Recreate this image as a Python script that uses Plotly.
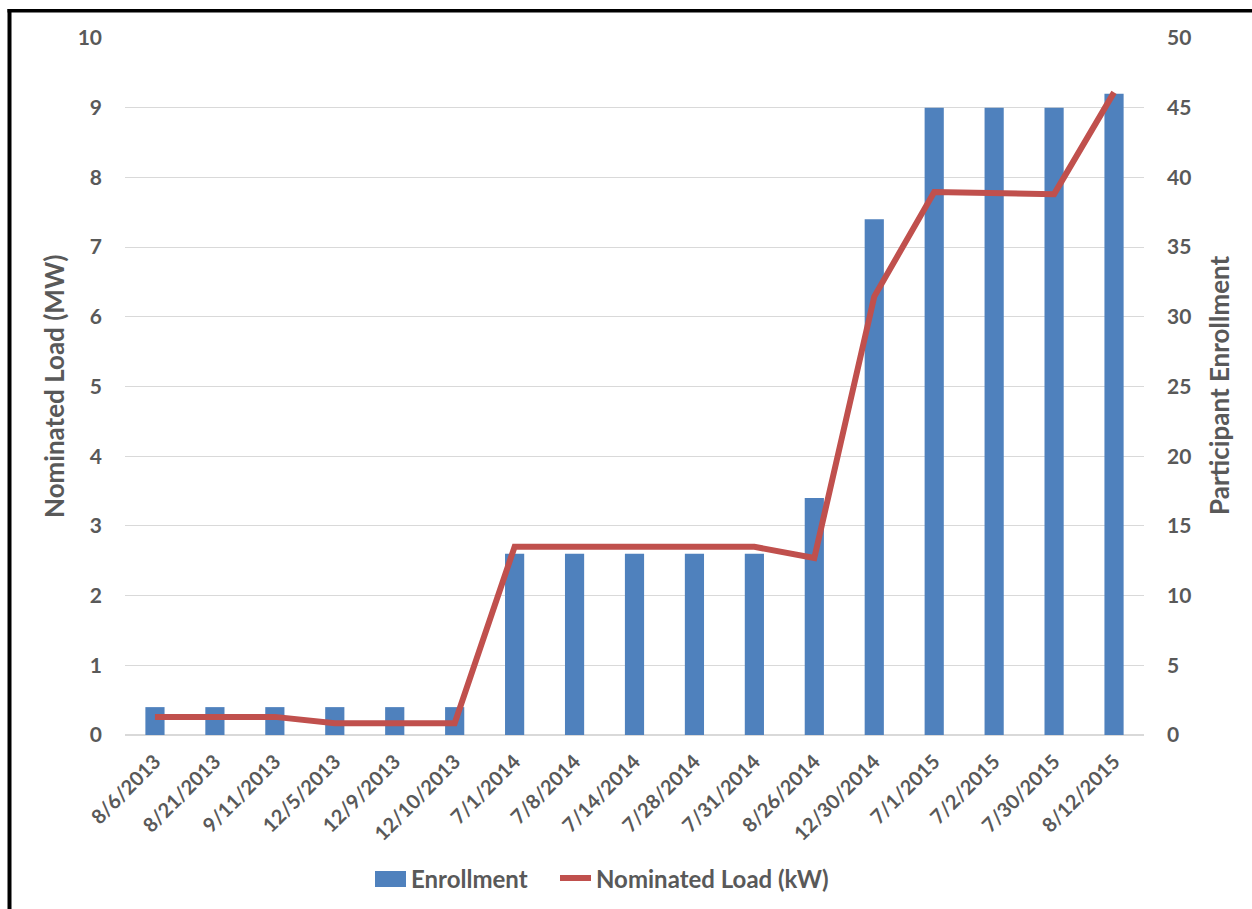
import plotly.graph_objects as go

# Enrollment dates (category axis)
dates = ["8/6/2013", "8/21/2013", "9/11/2013", "12/5/2013", "12/9/2013",
         "12/10/2013", "7/1/2014", "7/8/2014", "7/14/2014", "7/28/2014",
         "7/31/2014", "8/26/2014", "12/30/2014", "7/1/2015", "7/2/2015",
         "7/30/2015", "8/12/2015"]

# Participant enrollment (count, right axis)
enrollment = [2, 2, 2, 2, 2, 2, 13, 13, 13, 13, 13, 17, 37, 45, 45, 45, 46]

# Nominated load (MW, left axis)
nominated_load = [0.26, 0.26, 0.26, 0.17, 0.17, 0.17, 2.70, 2.70, 2.70, 2.70,
                  2.70, 2.54, 6.29, 7.79, 7.78, 7.76, 9.22]

left_ticks = list(range(0, 11))
right_ticks = list(range(0, 51, 5))

BAR_COLOR = "#4F81BD"
LINE_COLOR = "#C0504D"
TEXT = "#595959"
FONT = "Lato"
W, H = 1252, 909
L, R, T, B = 125, 108, 38, 174
PW, PH = W - L - R, H - T - B


def px_x(p):
    return (p - L) / PW


def px_y(p):
    return (H - B - p) / PH


def bold(size):
    return dict(size=size, family=FONT, color=TEXT, weight="bold")


fig = go.Figure()

fig.add_trace(go.Bar(
    x=dates, y=enrollment, name="Enrollment",
    marker=dict(color=BAR_COLOR, line=dict(width=0)),
    yaxis="y", showlegend=False,
))

fig.add_trace(go.Scatter(
    x=dates, y=nominated_load, name="Nominated Load (kW)",
    mode="lines", line=dict(color=LINE_COLOR, width=6),
    yaxis="y2", showlegend=False,
))

# Legend row drawn beneath the chart
LEG_Y = 878
legend_shapes = [
    dict(type="rect", xref="paper", yref="paper",
         x0=px_x(375), x1=px_x(406), y0=px_y(887), y1=px_y(871),
         fillcolor=BAR_COLOR, line=dict(width=0)),
    dict(type="line", xref="paper", yref="paper",
         x0=px_x(560), x1=px_x(591), y0=px_y(LEG_Y), y1=px_y(LEG_Y),
         line=dict(color=LINE_COLOR, width=6)),
]
legend_labels = [
    dict(text="Enrollment", xref="paper", yref="paper",
         x=px_x(409), y=px_y(LEG_Y), xanchor="left", yanchor="middle",
         showarrow=False, font=bold(24)),
    dict(text="Nominated Load (kW)", xref="paper", yref="paper",
         x=px_x(594), y=px_y(LEG_Y), xanchor="left", yanchor="middle",
         showarrow=False, font=bold(24)),
]

fig.update_layout(
    width=W, height=H,
    margin=dict(l=L, r=R, t=T, b=B),
    paper_bgcolor="white", plot_bgcolor="white",
    font=dict(family=FONT, color=TEXT),
    bargap=0.68,
    showlegend=False,
    xaxis=dict(
        type="category", tickangle=-45, showgrid=False, zeroline=False,
        showline=False, ticks="",
        tickfont=bold(20),
        ticklabelstandoff=10,
    ),
    yaxis=dict(
        side="right", range=[0, 50], tickvals=right_ticks,
        showgrid=True, gridcolor="#D9D9D9", gridwidth=1,
        zeroline=True, zerolinecolor="#D9D9D9", zerolinewidth=1.5,
        showline=False, ticks="",
        tickfont=bold(21),
        ticklabelstandoff=22,
    ),
    yaxis2=dict(
        side="left", overlaying="y", range=[0, 10], tickvals=left_ticks,
        showgrid=False, zeroline=False, showline=False, ticks="",
        tickfont=bold(21),
        ticklabelstandoff=22,
    ),
    annotations=[
        dict(text="Nominated Load (MW)", textangle=-90,
             xref="paper", yref="paper", x=px_x(54), y=px_y(387),
             xanchor="center", yanchor="middle", showarrow=False,
             font=bold(26)),
        dict(text="Participant Enrollment", textangle=-90,
             xref="paper", yref="paper", x=px_x(1219), y=px_y(385),
             xanchor="center", yanchor="middle", showarrow=False,
             font=bold(26)),
    ] + legend_labels,
    shapes=[
        dict(type="line", xref="paper", yref="paper",
             x0=px_x(9.5), x1=px_x(9.5), y0=px_y(9), y1=px_y(940),
             line=dict(color="black", width=4)),
        dict(type="line", xref="paper", yref="paper",
             x0=px_x(7.5), x1=px_x(1280), y0=px_y(10.7), y1=px_y(10.7),
             line=dict(color="black", width=3.5)),
    ] + legend_shapes,
)

fig.write_html("out.html")
